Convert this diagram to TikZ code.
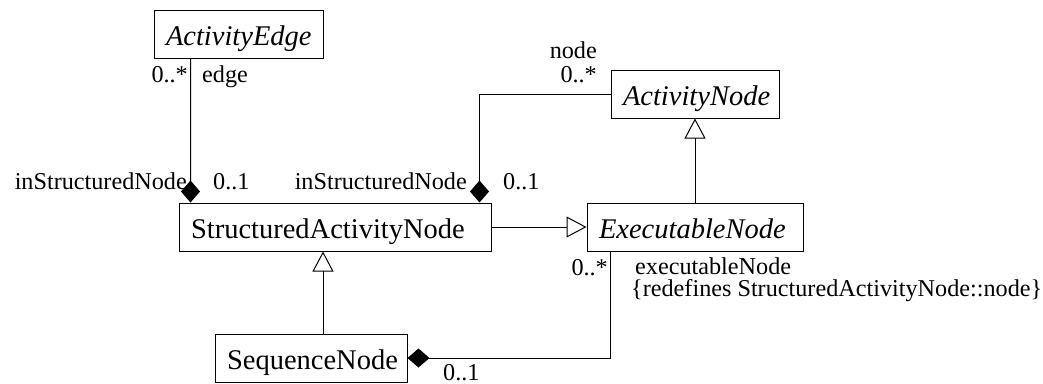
\documentclass[tikz,border=0pt]{standalone}
\usepackage{fontspec}
\setmainfont{Liberation Serif}
\usetikzlibrary{arrows.meta,calc}
\tikzset{
  cls/.style={draw, line width=1bp, inner ysep=0pt, inner xsep=12bp,
    text height=35.5bp, text depth=12.5bp, align=left,
    font=\fontsize{28.5bp}{30bp}\selectfont},
  lbl/.style={inner sep=0pt, font=\fontsize{24.2bp}{24bp}\selectfont},
  conn/.style={line width=1bp},
  gen/.style={conn, -{Triangle[open, length=20bp, width=21bp, fill=white]}},
  comp/.style={conn, -{Diamond[length=22bp, width=19bp, fill=black]}},
}
\begin{document}
\begin{tikzpicture}[x=1bp, y=-1bp]
\useasboundingbox (0,0) rectangle (1043,383);
% classes
\node[cls, text width=145bp] (ae) at (238.5,34) {\textit{ActivityEdge}};
\node[cls, text width=144bp] (an) at (695,94) {\textit{ActivityNode}};
\node[cls, text width=288bp] (san) at (335,227) {StructuredActivityNode};
\node[cls, text width=192bp] (en) at (695,227) {\textit{ExecutableNode}};
\node[cls, text width=168bp] (sn) at (311,358) {SequenceNode};
% connectors
\draw[comp] ([xshift=37bp]ae.south west) -- ([xshift=12bp]san.north west);
\draw[comp] (an.west) -| ([xshift=-12bp]san.north east);
\draw[gen] (san.east) -- (en.west);
\draw[gen] (en.north) -- (an.south);
\coordinate (g) at ([xshift=12bp]sn.north);
\draw[gen] (g) -- (g |- san.south);
\draw[comp] ([xshift=24bp]en.south west) |- (sn.east);
% labels
\node[lbl, anchor=base east] (l1) at (188,82) {0..*};
\node[lbl, anchor=base west] (l2) at (202,82) {edge};
\node[lbl, anchor=base east] (l3) at (187,189) {inStructuredNode};
\node[lbl, anchor=base west] (l4) at (213,189) {0..1};
\node[lbl, anchor=base east] (l5) at (597,58) {node};
\node[lbl, anchor=base east] (l6) at (597,82) {0..*};
\node[lbl, anchor=base east] (l7) at (467,189) {inStructuredNode};
\node[lbl, anchor=base west] (l8) at (503,189) {0..1};
\node[lbl, anchor=base east] (l9) at (608,275) {0..*};
\node[lbl, anchor=base west] (l10) at (635,274) {executableNode};
\node[lbl, anchor=base west] (l11) at (631,296) {\{redefines StructuredActivityNode::node\}};
\node[lbl, anchor=base west] (l12) at (443,380.5) {0..1};
\end{tikzpicture}
\end{document}
